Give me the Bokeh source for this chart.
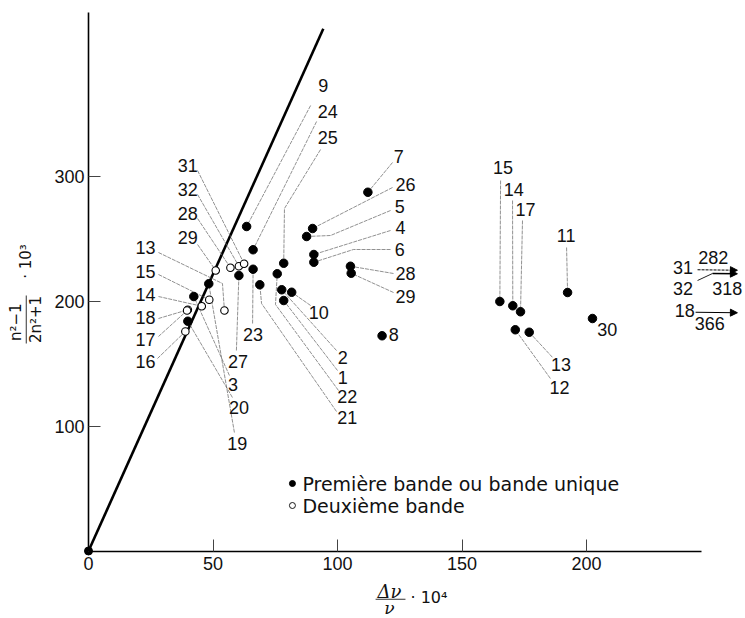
import numpy as np
from bokeh.plotting import figure
from bokeh.models import Range1d, FixedTicker, Arrow, NormalHead
from bokeh.core.properties import value
from bokeh.embed import file_html
from bokeh.resources import INLINE

# ---------------- data ----------------
# first band (filled circles): compound number, delta-nu/nu*1e4, (n2-1)/(2n2+1)*1e3
filled_num = [9, 24, 23, 27, 21, 25, 22, 2, 10, 1, 19, 3, 20, 4, 6, 26, 5, 28, 29, 7, 8,
              15, 14, 17, 12, 13, 11, 30]
filled_x = [63.5, 66.1, 66.1, 60.4, 68.8, 78.4, 75.8, 77.6, 81.6, 78.4, 48.3, 42.3, 39.9,
            90.5, 90.5, 90.0, 87.6, 105.2, 105.5, 112.2, 117.9,
            165.2, 170.4, 173.5, 171.4, 177.0, 192.4, 202.4]
filled_y = [259.6, 241.0, 225.4, 220.4, 213.0, 230.2, 221.8, 209.0, 207.0, 200.4, 213.8, 203.6, 183.8,
            237.2, 231.0, 258.0, 251.6, 227.8, 222.2, 287.0, 172.2,
            199.6, 196.2, 191.4, 177.0, 175.0, 206.8, 186.0]

# second band (open circles)
open_num = [29, 28, 32, 31, 15, 14, 18, 17, 16, 13]
open_x = [51.1, 57.0, 60.4, 62.5, 48.5, 45.5, 39.9, 39.6, 38.9, 54.6]
open_y = [224.4, 226.6, 227.8, 229.8, 201.0, 195.8, 193.0, 192.4, 175.6, 192.4]

origin_x = [0.0]
origin_y = [0.0]

# reference line
diag_x = [0.0, 94.3]
diag_y = [0.0, 417.8]

# first bands off the chart (value of delta-nu/nu*1e4)
off_num = ["31", "32", "18"]
off_val = ["282", "318", "366"]

# labels: text, series, label position, leader start, optional elbow
label_text = ["9", "24", "25", "31", "32", "28", "29", "13", "15", "14", "18", "17", "16",
              "23", "27", "3", "20", "19", "10", "2", "1", "22", "21",
              "7", "26", "5", "4", "6", "28", "29", "8",
              "15", "14", "17", "11", "13", "12", "30"]
label_series = ["f", "f", "f", "o", "o", "o", "o", "o", "o", "o", "o", "o", "o",
                "f", "f", "f", "f", "f", "f", "f", "f", "f", "f",
                "f", "f", "f", "f", "f", "f", "f", "f",
                "f", "f", "f", "f", "f", "f", "f"]
label_x = [94.3, 96.1, 96.1, 39.9, 39.9, 39.9, 39.9, 22.9, 22.9, 22.9, 22.9, 22.9, 22.9,
           66.1, 60.0, 58.0, 60.4, 59.7, 92.5, 102.1, 102.1, 103.9, 103.9,
           124.6, 127.3, 125.0, 125.3, 125.0, 127.3, 127.3, 122.6,
           166.5, 170.8, 175.5, 191.8, 189.8, 189.2, 208.3]
label_y = [372.4, 351.6, 331.0, 308.4, 289.0, 270.2, 250.6, 242.6, 223.8, 205.2, 187.0, 169.2, 151.8,
           173.0, 151.8, 133.0, 114.6, 86.2, 190.6, 155.0, 139.0, 123.6, 107.0,
           315.6, 293.0, 275.6, 258.6, 241.2, 221.8, 203.6, 173.0,
           306.6, 289.2, 273.0, 252.4, 149.2, 131.0, 177.0]
lead_x0 = [89.2, 91.6, 93.2, 43.8, 43.8, 43.8, 43.8, 28.1, 28.1, 28.1, 28.1, 28.1, 27.7,
           65.9, 59.4, 56.6, 57.8, 58.6, 89.2, 99.6, 100.0, 100.4, 99.6,
           122.1, 122.1, 121.3, 121.3, 121.3, 122.5, 122.5, None,
           165.5, 170.3, 174.3, 192.0, 186.3, 185.5, None]
lead_y0 = [356.4, 343.6, 321.2, 304.4, 285.2, 266.0, 245.2, 238.8, 221.2, 203.6, 186.0, 171.6, 154.0,
           182.0, 160.4, 140.4, 122.8, 94.8, 196.4, 160.4, 144.4, 128.4, 111.6,
           310.8, 290.8, 272.4, 256.4, 241.2, 222.0, 206.8, None,
           296.4, 280.4, 264.4, 242.8, 155.0, 138.0, None]
elbow_x = {2: 78.7, 7: 53.8, 21: 75.1, 22: 69.5, 25: 97.2, 27: 106.4}
elbow_y = {2: 274.0, 7: 214.0, 21: 197.2, 22: 198.0, 25: 252.4, 27: 241.2}

# ---------------- figure ----------------
px_per_x = 2.49
px_per_y = 1.25
x0_px, y0_px = 88.0, 550.5
W, H = 745, 618
xr = Range1d(-x0_px / px_per_x, (W - x0_px) / px_per_x)
yr = Range1d(-(H - y0_px) / px_per_y, y0_px / px_per_y)

p = figure(width=W, height=H, x_range=xr, y_range=yr, output_backend="svg",
           toolbar_location=None, min_border=0)
p.outline_line_color = None
p.grid.visible = False
p.background_fill_color = "white"
p.border_fill_color = "white"

for ax in (p.xaxis, p.yaxis):
    ax.fixed_location = 0
    ax.axis_line_width = 1.6
    ax.axis_line_color = "black"
    ax.major_tick_in = 12
    ax.major_tick_out = 0
    ax.major_tick_line_color = "#444"
    ax.major_tick_line_width = 1
    ax.minor_tick_line_color = None
    ax.major_label_text_font = "Liberation Sans"
    ax.major_label_text_font_size = "18px"
    ax.major_label_text_color = "#111"
p.xaxis.bounds = (0, 246)
p.yaxis.bounds = (0, 431)
p.xaxis.ticker = FixedTicker(ticks=[0, 50, 100, 150, 200])
p.yaxis.ticker = FixedTicker(ticks=[100, 200, 300])
p.xaxis.major_label_standoff = 6
p.yaxis.major_label_standoff = 4

# reference line
p.line(diag_x, diag_y, line_color="black", line_width=2.6)

# leaders
fpos = {n: (x, y) for n, x, y in zip(filled_num, filled_x, filled_y)}
opos = {n: (x, y) for n, x, y in zip(open_num, open_x, open_y)}
lx, ly = [], []
for i, t in enumerate(label_text):
    if lead_x0[i] is None:
        continue
    tx, ty = (fpos if label_series[i] == "f" else opos)[int(t)]
    xs = [lead_x0[i]]
    ys = [lead_y0[i]]
    if i in elbow_x:
        xs.append(elbow_x[i])
        ys.append(elbow_y[i])
    xs.append(tx)
    ys.append(ty)
    lx.append(xs)
    ly.append(ys)
p.multi_line(lx, ly, line_color="#666", line_width=0.9, line_dash="4 1", line_alpha=0.8)

# points
p.scatter(filled_x, filled_y, size=8.5, marker="circle", fill_color="black", line_color="black")
p.scatter(origin_x, origin_y, size=8, marker="circle", fill_color="black", line_color="black")
p.scatter(open_x, open_y, size=7.5, marker="circle", fill_color="white", line_color="black",
          line_width=1.1)

# labels
p.text(label_x, label_y, text=label_text, text_align="center", text_baseline="middle",
       text_font=value("Liberation Sans"), text_font_size="18px", text_color="#111")

# off-chart first bands
p.text([238.8, 238.8, 239.5], [227.0, 210.2, 192.4], text=off_num, text_align="center",
       text_baseline="middle", text_font=value("Liberation Sans"), text_font_size="18px",
       text_color="#111")
p.text([250.9, 256.5, 249.5], [234.6, 210.2, 181.8], text=off_val, text_align="center",
       text_baseline="middle", text_font=value("Liberation Sans"), text_font_size="18px",
       text_color="#111")
p.add_layout(Arrow(end=NormalHead(size=7, fill_color="black", line_color="black"),
                   x_start=244.6, y_start=225.0, x_end=260.6, y_end=224.6,
                   line_width=1, line_dash="3 1"))
p.segment([244.6], [216.4], [250.6], [222.0], line_color="#222", line_width=1)
p.add_layout(Arrow(end=NormalHead(size=7, fill_color="black", line_color="black"),
                   x_start=250.6, y_start=222.0, x_end=260.6, y_end=221.8, line_width=1.6))
p.add_layout(Arrow(end=NormalHead(size=7, fill_color="black", line_color="black"),
                   x_start=243.8, y_start=191.0, x_end=260.6, y_end=190.6, line_width=1.2))

# legend
p.scatter([81.9], [54.0], size=6, marker="circle", fill_color="black", line_color="black")
p.scatter([81.9], [36.4], size=6, marker="circle", fill_color="white", line_color="black",
          line_width=0.9)
p.text([85.9, 85.9], [54.0, 36.4], text=["Première bande ou bande unique", "Deuxième bande"],
       text_align="left", text_baseline="middle", text_font=value("DejaVu Sans"),
       text_font_size="19px", text_color="#111")

# x axis title: delta-nu / nu . 10^4
p.text([120.9], [-32.5], text=["Δν"], text_align="center", text_baseline="middle",
       text_font=value("DejaVu Serif"), text_font_style="italic", text_font_size="18px",
       text_color="#111")
p.segment([115.3], [-38.6], [127.3], [-38.6], line_color="#333", line_width=1)
p.text([120.9], [-45.6], text=["ν"], text_align="center", text_baseline="middle",
       text_font=value("DejaVu Serif"), text_font_style="italic", text_font_size="17px",
       text_color="#111")
p.text([129.3], [-37.0], text=["· 10⁴"], text_align="left", text_baseline="middle",
       text_font=value("DejaVu Sans"), text_font_size="16px", text_color="#111")

# y axis title: (n2-1)/(2n2+1) . 10^3 (rotated)
rot = np.pi / 2
p.text([-29.3], [183.0], text=["n²−1"], angle=rot, text_align="center", text_baseline="middle",
       text_font=value("DejaVu Sans"), text_font_size="15px", text_color="#111")
p.segment([-25.0], [166.0], [-25.0], [204.4], line_color="#333", line_width=1)
p.text([-21.0], [185.2], text=["2n²+1"], angle=rot, text_align="center", text_baseline="middle",
       text_font=value("DejaVu Sans"), text_font_size="15px", text_color="#111")
p.text([-25.3], [231.6], text=["· 10³"], angle=rot, text_align="center", text_baseline="middle",
       text_font=value("DejaVu Sans"), text_font_size="15px", text_color="#111")

open("out.html", "w").write(file_html(p, INLINE))
